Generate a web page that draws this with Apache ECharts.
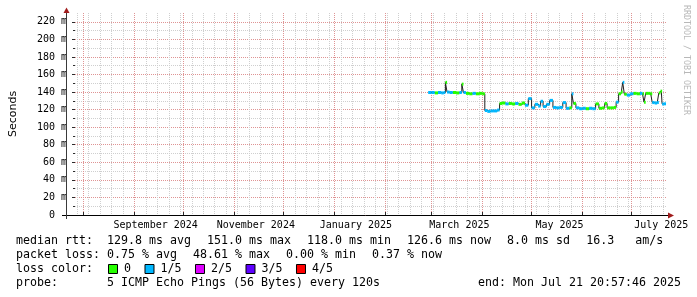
<!DOCTYPE html>
<html><head><meta charset="utf-8">
<script src="https://cdn.jsdelivr.net/npm/echarts@6/dist/echarts.min.js"></script>
<style>html,body{margin:0;padding:0;background:#fff}#c{width:697px;height:297px}</style>
</head><body><div id="c"></div>
<script>
// ---- data ----
const startTime = '2024-07-26T20:57:46Z';
const endTime   = '2025-07-21T20:57:46Z';
const dates = ['2025-02-28','2025-03-02','2025-03-04','2025-03-06','2025-03-08','2025-03-09','2025-03-10','2025-03-11','2025-03-13','2025-03-15',
 '2025-03-17','2025-03-19','2025-03-20','2025-03-21','2025-03-23','2025-03-25','2025-03-27','2025-03-29','2025-03-31','2025-04-02',
 '2025-04-03','2025-04-05','2025-04-07','2025-04-09','2025-04-11','2025-04-12','2025-04-14','2025-04-16','2025-04-18','2025-04-20',
 '2025-04-22','2025-04-24','2025-04-26','2025-04-28','2025-04-30','2025-05-02','2025-05-04','2025-05-06','2025-05-07','2025-05-09',
 '2025-05-11','2025-05-13','2025-05-15','2025-05-17','2025-05-19','2025-05-21','2025-05-23','2025-05-25','2025-05-26','2025-05-27',
 '2025-05-29','2025-05-31','2025-06-02','2025-06-04','2025-06-06','2025-06-08','2025-06-10','2025-06-12','2025-06-14','2025-06-15',
 '2025-06-17','2025-06-19','2025-06-21','2025-06-22','2025-06-24','2025-06-25','2025-06-26','2025-06-27','2025-06-29','2025-07-01',
 '2025-07-03','2025-07-05','2025-07-07','2025-07-08','2025-07-09','2025-07-10','2025-07-12','2025-07-13','2025-07-14','2025-07-16',
 '2025-07-17','2025-07-18','2025-07-19','2025-07-20','2025-07-21'];
// median rtt in ms
const median = [139.5,139.5,139.0,139.5,139.0,139.5,151.0,140.0,139.5,139.5,
 139.0,139.5,149.0,139.5,138.5,138.0,138.5,138.0,138.5,138.0,
 119.0,118.0,118.5,118.5,119.5,127.0,127.5,126.5,127.0,126.5,
 127.0,126.0,127.5,125.0,132.5,122.0,126.0,124.0,129.5,123.5,
 126.0,130.5,122.5,122.0,122.5,128.0,121.5,122.0,138.0,127.0,
 122.0,121.0,121.5,121.0,121.5,121.0,126.5,121.5,122.0,127.0,
 122.0,122.0,122.5,128.5,138.0,140.0,151.0,137.5,136.5,138.0,
 138.5,138.0,138.5,138.0,128.5,138.5,138.5,138.0,128.0,127.5,
 128.0,139.0,141.0,126.5,126.6];
// smoke (spread of the pings) lower / upper bound in ms
const smokeLow = [138.5,138.5,138.0,138.5,138.0,138.5,140.0,139.0,138.5,138.5,
 138.0,138.5,140.0,138.0,137.5,137.0,137.5,137.0,137.5,137.0,
 117.5,117.0,117.0,117.5,118.0,125.0,125.5,125.0,125.5,125.0,
 125.5,124.5,125.5,123.5,128.0,120.5,124.0,122.5,126.0,122.0,
 124.0,127.0,121.0,120.5,121.0,125.0,120.0,120.5,128.0,124.0,
 120.5,120.0,120.0,120.0,120.0,120.0,122.0,120.0,120.5,123.0,
 120.5,120.5,121.0,126.0,134.0,137.0,140.0,131.0,131.0,136.0,
 137.0,137.0,137.0,137.0,127.0,137.0,137.0,137.0,126.5,126.0,
 126.5,137.0,138.0,125.0,125.0];
const smokeHigh = [141.0,141.0,140.5,141.0,141.0,142.0,153.0,143.0,141.0,141.0,
 141.0,142.0,150.5,141.5,140.0,140.0,140.0,139.5,140.0,139.5,
 121.0,120.0,120.5,120.5,121.0,131.0,132.5,133.0,132.0,133.0,
 132.5,131.5,133.0,130.0,135.0,127.5,131.5,129.5,133.0,128.0,
 131.0,133.0,125.5,124.0,125.0,130.0,124.0,125.0,139.5,130.0,
 124.5,123.0,123.0,122.5,123.0,122.5,128.0,123.0,124.0,128.5,
 124.0,123.5,124.0,130.5,139.5,142.0,153.5,139.5,139.0,140.0,
 140.5,140.0,140.5,140.0,131.0,140.0,140.0,140.0,130.0,129.5,
 130.0,141.0,143.5,129.0,128.0];
// loss bucket (0 = 0/5, 1 = 1/5 ...)
const lossBucket = [1,1,0,1,1,1,0,1,1,0,
 0,1,0,1,0,0,1,0,0,0,
 1,1,1,1,1,0,0,1,0,0,
 1,0,0,1,1,1,1,1,1,1,
 1,1,1,1,1,1,1,0,1,0,
 1,1,1,0,1,1,0,0,0,0,
 0,0,0,1,0,0,1,0,1,1,
 0,0,1,0,0,0,0,0,1,1,
 1,0,0,1,1];
const lossLabels = ['0','1/5','2/5','3/5','4/5'];
const lossColors = ['#26ff00','#00b8ff','#dd00ff','#5e00ff','#ff0000'];

// axis ticks / labels
const yMajorTicks = [0,20,40,60,80,100,120,140,160,180,200,220];
const yMinorTicks = [10,30,50,70,90,110,130,150,170,190,210];
const monthStarts = ['2024-08-01','2024-09-01','2024-10-01','2024-11-01','2024-12-01','2025-01-01',
 '2025-02-01','2025-03-01','2025-04-01','2025-05-01','2025-06-01','2025-07-01'];
const xLabelDates = ['2024-09-14','2024-11-14','2025-01-14','2025-03-18','2025-05-18','2025-07-19'];
const xLabelText  = ['September 2024','November 2024','January 2025','March 2025','May 2025','July 2025'];

// legend statistics
const rttItems  = ['129.8 ms avg','151.0 ms max','118.0 ms min','126.6 ms now','8.0 ms sd','16.3   am/s'];
const lossItems = ['0.75 % avg','48.61 % max','0.00 % min','0.37 % now'];
const probeText = '5 ICMP Echo Pings (56 Bytes) every 120s';
const endText = 'end: Mon Jul 21 20:57:46 2025';

// ---- build ----
const DAY = 86400000;
const T = s => Date.parse(s);
const tMin = T(startTime), tMax = T(endTime);
const monthTimes = monthStarts.map(T);
const weekTimes = [];
for (let t = T('2024-07-28'); t < tMax; t += 7*DAY) {
  if (monthTimes.indexOf(t) < 0) weekTimes.push(t);
}
const xLabelTimes = xLabelDates.map(T);
const times = dates.map(T);
// extent of each sample: half way to its neighbours
const tFrom = times.map((t,i)=> i===0 ? t - DAY : (t + times[i-1]) / 2);
const tTo   = times.map((t,i)=> i===times.length-1 ? Math.min(t + DAY, tMax) : (t + times[i+1]) / 2);

const mono = '"DejaVu Sans Mono", monospace';
const FS = 11.63;                 // legend font size
const CW = FS * 0.6021;           // mono advance width
const GAP = 16;                   // rrdtool inter-legend gap
const redGrid = '#df9494';
const grayGrid = '#cfcfcf';
const axisCol = '#2c2c2c';

const series = [
  {name:'smokeBase', type:'line', stack:'smoke', step:'middle', data: times.map((t,i)=>[t, smokeLow[i]]),
   showSymbol:false, lineStyle:{width:0}, z:2, silent:true},
  {name:'smoke', type:'line', stack:'smoke', step:'middle', data: times.map((t,i)=>[t, +(smokeHigh[i]-smokeLow[i]).toFixed(2)]),
   showSymbol:false, lineStyle:{width:0}, areaStyle:{color:'#a4a4a4', opacity:1}, z:2, silent:true},
  {name:'median', type:'line', step:'middle', data: times.map((t,i)=>[t, median[i]]),
   showSymbol:false, lineStyle:{color:'#202020', width:1}, z:3, silent:true}
];
lossLabels.forEach((lab,k)=>{
  const data = [];
  times.forEach((t,i)=>{ if (lossBucket[i]===k) data.push([tFrom[i], tTo[i], median[i]]); });
  series.push({name:lab, type:'custom', itemStyle:{color:lossColors[k]}, z:4, silent:true, clip:true,
    encode:{x:[0,1], y:2}, data:data,
    renderItem:(params, api)=>{
      const a = api.coord([api.value(0), api.value(2)]);
      const b = api.coord([api.value(1), api.value(2)]);
      return {type:'rect', shape:{x:a[0], y:a[1]-1.5, width:Math.max(b[0]-a[0],1), height:3},
              style:{fill:lossColors[k]}};
    }});
});

const txt = (s, x, y, align) => ({type:'text', x:x, y:y, silent:true, z:100,
  style:{text:s, fill:'#000', font:FS + 'px ' + mono, textVerticalAlign:'middle', textAlign:align||'left'}});
// rrdtool style legend line: items separated by a fixed gap
const legendLine = (label, items, y) => {
  const els = [txt(label, 16, y)];
  let x = 107;
  items.forEach(s => { els.push(txt(s, x, y)); x += s.length * CW + GAP; });
  return els;
};

const option = {
  animation:false,
  backgroundColor:'#ffffff',
  grid:{left:66, top:13, width:600, height:202},
  legend:{data:lossLabels, left:108, top:263, padding:0, itemWidth:9, itemHeight:9, itemGap:13.5,
    icon:'rect', selectedMode:false, itemStyle:{borderColor:'#000', borderWidth:1},
    textStyle:{fontFamily:mono, fontSize:FS, color:'#000', padding:[0,0,0,1.5]}},
  xAxis:[
    {type:'value', min:tMin, max:tMax, axisLine:{show:false},
     axisTick:{show:false, customValues:weekTimes},
     splitLine:{show:true, lineStyle:{color:grayGrid, type:[1,1], width:1}},
     axisLabel:{customValues:xLabelTimes, fontFamily:mono, fontSize:10, color:'#000', margin:5,
       formatter:(v)=>{const i=xLabelTimes.indexOf(v); return i>=0?xLabelText[i]:'';}}},
    {type:'value', min:tMin, max:tMax, axisLine:{show:false},
     axisTick:{show:true, customValues:monthTimes, length:3, lineStyle:{color:axisCol}},
     splitLine:{show:true, lineStyle:{color:redGrid, type:[1,1], width:1}},
     axisLabel:{show:false}}
  ],
  yAxis:[
    {type:'value', min:0, max:230, axisLine:{show:false},
     axisTick:{show:true, customValues:yMajorTicks, length:3, lineStyle:{color:axisCol}},
     splitLine:{show:true, lineStyle:{color:redGrid, type:[1,1], width:1}},
     axisLabel:{customValues:yMajorTicks, fontFamily:mono, fontSize:10, color:'#000', margin:8,
       formatter:(v)=> v===0 ? '0  ' : v + ' m'},
     name:'Seconds', nameLocation:'middle', nameGap:56,
     nameTextStyle:{fontFamily:'"DejaVu Sans"', fontSize:11, color:'#000'}},
    {type:'value', min:0, max:230, position:'left', axisLine:{show:false},
     axisTick:{show:true, customValues:yMinorTicks, length:2, lineStyle:{color:axisCol}},
     splitLine:{show:true, lineStyle:{color:grayGrid, type:[1,1], width:1}},
     axisLabel:{show:false}}
  ],
  series: series,
  graphic:[
    {type:'line', shape:{x1:62, y1:215.5, x2:669, y2:215.5}, style:{stroke:'#000', lineWidth:1}, z:50, silent:true},
    {type:'line', shape:{x1:66.5, y1:219, x2:66.5, y2:12}, style:{stroke:'#3a3a3a', lineWidth:1}, z:50, silent:true},
    {type:'polygon', shape:{points:[[674,215.5],[668,212.5],[668,218.5]]}, style:{fill:'#a01c1c'}, z:51, silent:true},
    {type:'polygon', shape:{points:[[66.5,7.5],[63.5,13],[69.5,13]]}, style:{fill:'#a01c1c'}, z:51, silent:true}
  ].concat(
    legendLine('median rtt:', rttItems, 241),
    legendLine('packet loss:', lossItems, 255),
    [txt('loss color:', 16, 269),
     txt('probe:', 16, 283),
     txt(probeText, 107, 283),
     txt(endText, 681, 283, 'right'),
     {type:'text', x:686, y:5, rotation:-Math.PI/2, silent:true, z:100,
      style:{text:'RRDTOOL / TOBI OETIKER', fill:'#b8b8b8', font:'8.3px ' + mono, textAlign:'left', textVerticalAlign:'middle'}}]
  )
};
const chart = echarts.init(document.getElementById('c'), null, {renderer:'canvas', width:697, height:297});
chart.setOption(option);
</script>
</body></html>
